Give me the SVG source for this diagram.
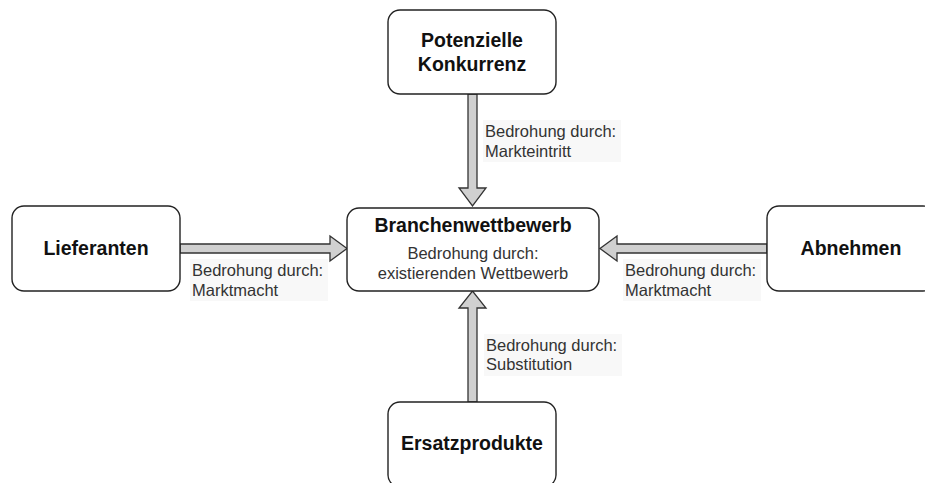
<svg xmlns="http://www.w3.org/2000/svg" width="925" height="483" viewBox="0 0 925 483">
<style>
.node{fill:#fff;stroke:#222;stroke-width:1.4}
.title{font-family:"Liberation Sans",Arial,sans-serif;font-weight:bold;font-size:19.5px;fill:#111;text-anchor:middle}
.sub{font-family:"Liberation Sans",Arial,sans-serif;font-size:16.5px;fill:#333;text-anchor:middle}
.lbl{font-family:"Liberation Sans",Arial,sans-serif;font-size:16.5px;fill:#333}
.lblbg{fill:#f8f8f8}
.arrow{fill:#d0d0d0;stroke:#333;stroke-width:1.3;stroke-linejoin:miter}
</style>
<rect width="925" height="483" fill="#fff"/>
<g id="connectors">
  <polygon class="arrow" points="468,94 477,94 477,188 486,188 472.5,206 459,188 468,188"/>
  <polygon class="arrow" points="180,244 330,244 330,236 347,248.5 330,261 330,253 180,253"/>
  <polygon class="arrow" points="767,244 617,244 617,236 600,248.5 617,261 617,253 767,253"/>
  <polygon class="arrow" points="468,402 477,402 477,308 486,308 472.5,291 459,308 468,308"/>
</g>
<g id="labels">
  <g id="label-top">
    <rect class="lblbg" x="483" y="120" width="138" height="42"/>
    <text class="lbl" x="485" y="137">Bedrohung durch:</text>
    <text class="lbl" x="485" y="157">Markteintritt</text>
  </g>
  <g id="label-left">
    <rect class="lblbg" x="190" y="259" width="138" height="42"/>
    <text class="lbl" x="192" y="276">Bedrohung durch:</text>
    <text class="lbl" x="192" y="296">Marktmacht</text>
  </g>
  <g id="label-right">
    <rect class="lblbg" x="623" y="259" width="138" height="42"/>
    <text class="lbl" x="625" y="276">Bedrohung durch:</text>
    <text class="lbl" x="625" y="296">Marktmacht</text>
  </g>
  <g id="label-bottom">
    <rect class="lblbg" x="484" y="334" width="138" height="42"/>
    <text class="lbl" x="486" y="351">Bedrohung durch:</text>
    <text class="lbl" x="486" y="370">Substitution</text>
  </g>
</g>
<g id="node-potenzielle">
  <rect class="node" x="388" y="10" width="168" height="84" rx="12"/>
  <text class="title" x="472" y="47">Potenzielle</text>
  <text class="title" x="472" y="71">Konkurrenz</text>
</g>
<g id="node-branchenwettbewerb">
  <rect class="node" x="347" y="208" width="252" height="83" rx="12"/>
  <text class="title" x="473" y="232">Branchenwettbewerb</text>
  <text class="sub" x="473" y="259">Bedrohung durch:</text>
  <text class="sub" x="473" y="279">existierenden Wettbewerb</text>
</g>
<g id="node-lieferanten">
  <rect class="node" x="12" y="206" width="168" height="85" rx="12"/>
  <text class="title" x="96" y="255">Lieferanten</text>
</g>
<g id="node-abnehmen">
  <rect class="node" x="767" y="206" width="168" height="85" rx="12"/>
  <text class="title" x="851" y="255">Abnehmen</text>
</g>
<g id="node-ersatzprodukte">
  <rect class="node" x="388" y="402" width="168" height="85" rx="12"/>
  <text class="title" x="472" y="450">Ersatzprodukte</text>
</g>
</svg>
